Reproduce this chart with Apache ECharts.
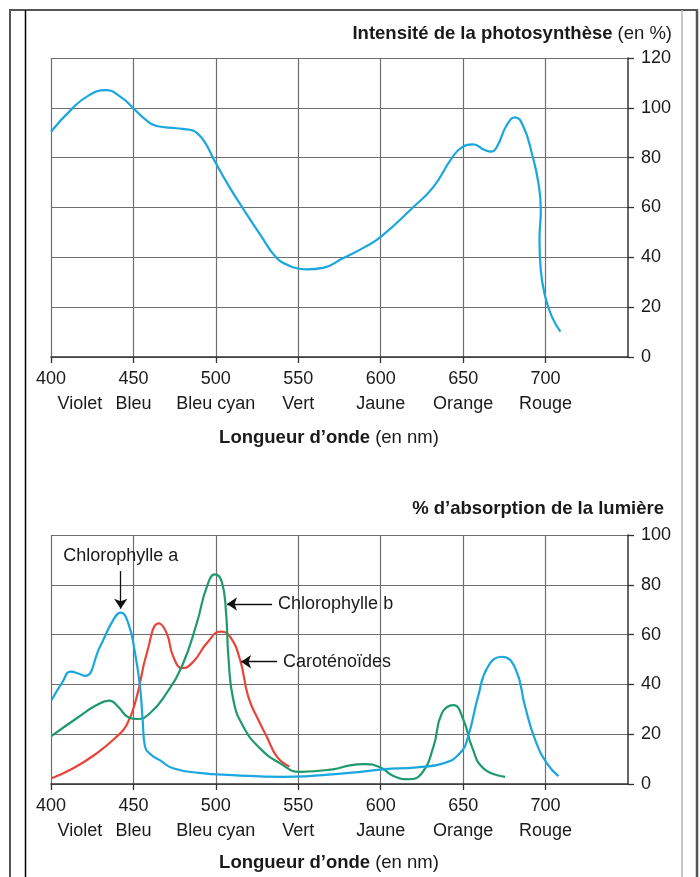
<!DOCTYPE html>
<html><head><meta charset="utf-8">
<script src="https://cdn.jsdelivr.net/npm/echarts@6/dist/echarts.min.js"></script>
<style>html,body{margin:0;padding:0;background:#fff}#c{width:700px;height:877px}</style>
</head><body><div id="c"></div><script>
// ---------- data ----------
const tickValues = [400, 450, 500, 550, 600, 650, 700];
const colourNames = ['Violet', 'Bleu', 'Bleu cyan', 'Vert', 'Jaune', 'Orange', 'Rouge'];
const colourPos = [417.5, 450, 500, 550, 600, 650, 700];
const photoYTicks = [0, 20, 40, 60, 80, 100, 120];
const absYTicks = [0, 20, 40, 60, 80, 100];

// Intensité de la photosynthèse
const photoNm  = [400, 413, 423, 433, 442, 450, 457, 464, 476, 485, 488, 493, 499.5, 508, 517, 527, 537, 544, 549, 555, 565, 577, 590, 600, 620, 632, 643, 649, 656, 663, 667, 670.5, 676.5, 681.6, 686.6, 691.7, 695.7, 697.1, 696.3, 697.1, 699.8, 703.8, 709];
const photoVal = [90.4, 99.8, 105, 107.1, 104.5, 99.8, 95.5, 92.7, 91.8, 91.1, 90.2, 86.5, 78.4, 68.5, 59, 49, 39.6, 36.8, 35.6, 35.2, 35.8, 39.6, 44, 48.2, 60.3, 68.3, 79.7, 84, 85.3, 83.1, 82.4, 84.4, 93.1, 96.2, 92.4, 81.7, 69.7, 59, 47, 34.9, 24.2, 16.2, 10.2];

// Chlorophylle a
const chlANm  = [400.4, 406.5, 412, 416.6, 420.6, 429.7, 437.8, 442.3, 446.9, 451, 454, 455.6, 457, 461, 466, 474, 490, 510, 541, 581, 601.6, 622, 638, 648, 653, 659, 665, 673.5, 681.6, 687.6, 693.7, 700.8, 707.8];
const chlAVal = [33.7, 40.4, 45.1, 44.4, 43.4, 55.1, 65.9, 68.8, 64.5, 52.5, 39.1, 25.7, 15, 11.6, 9.6, 6.3, 4.5, 3.6, 2.9, 4.5, 5.9, 6.7, 8.3, 12.3, 19, 35, 47.1, 51.1, 46.5, 31, 17.7, 8.3, 3.2];

// Chlorophylle b
const chlBNm  = [400.4, 415.6, 427.7, 435.4, 440.8, 446.9, 452.4, 460, 470, 479.3, 488.4, 494.5, 499.5, 503.6, 506.2, 507.6, 510.6, 516.7, 526.8, 539, 551, 571, 581.4, 589.5, 599.6, 607.7, 616.8, 624.9, 632, 637.1, 644.1, 650.2, 655.3, 662.3, 675.5];
const chlBVal = [19.3, 26.4, 31.7, 33.5, 31, 26.8, 26.1, 28.4, 36.4, 47.1, 64.5, 79.2, 84.2, 81.2, 68.6, 51.1, 33.7, 23, 14.3, 8.3, 4.9, 5.9, 7.5, 8, 6.7, 3.2, 1.9, 4.3, 15, 28.4, 31.7, 25.7, 15, 6.3, 2.9];

// Caroténoïdes
const carNm  = [400.4, 413.5, 427.7, 438.8, 445.9, 452, 458.1, 465.5, 470.2, 474.2, 479.9, 486.3, 494.5, 503, 508.6, 514.7, 519.7, 525.8, 530.9, 537, 544.6];
const carVal = [2.3, 6.3, 12.3, 18.4, 23.7, 35, 52.5, 64.5, 60.5, 51.1, 46.5, 49.1, 56.5, 61.2, 59.2, 49.8, 35, 25.7, 19, 11, 7];

// ---------- styling ----------
const FONT = '"Liberation Sans", Arial, Helvetica, sans-serif';
const TXT = '#1a1a1a';
const GRIDC = '#6e6e6e';
const zip = (a, b) => a.map((v, i) => [v, b[i]]);

function mainX(gi) {
  return {
    type: 'value', gridIndex: gi, min: 400, max: 750, interval: 50, position: 'bottom',
    axisLine: { show: true, onZero: false, lineStyle: { color: '#333', width: 1.5 } },
    axisTick: { show: true, length: 6, customValues: tickValues, lineStyle: { color: '#333', width: 1.3 } },
    axisLabel: { customValues: tickValues, fontSize: 18, color: TXT, fontFamily: FONT, margin: 13 },
    splitLine: { show: true, lineStyle: { color: GRIDC, width: 1.2 } }
  };
}
function nameX(gi) {
  return {
    type: 'value', gridIndex: gi, min: 400, max: 750, position: 'bottom',
    axisLine: { show: false }, axisTick: { show: false }, splitLine: { show: false },
    axisLabel: {
      customValues: colourPos, fontSize: 18, color: TXT, fontFamily: FONT, margin: 38,
      formatter: v => { const i = colourPos.indexOf(v); return i >= 0 ? colourNames[i] : ''; }
    }
  };
}
function yAx(gi, ticks) {
  return {
    type: 'value', gridIndex: gi, position: 'right', min: ticks[0], max: ticks[ticks.length - 1], interval: 20,
    axisLine: { show: true, lineStyle: { color: '#333', width: 1.5 } },
    axisTick: { show: true, length: 6, lineStyle: { color: '#333', width: 1.3 } },
    axisLabel: { fontSize: 18, color: TXT, fontFamily: FONT, margin: 13 },
    splitLine: { show: true, lineStyle: { color: GRIDC, width: 1.2 } }
  };
}
function arrow(label, from, to) {
  return {
    silent: true, animation: false, symbol: ['none', 'arrow'], symbolSize: 10,
    lineStyle: { color: '#111', width: 1.3, type: 'solid' },
    itemStyle: { color: '#111' },
    label: { show: true, position: 'start', formatter: label, fontSize: 18, color: TXT, fontFamily: FONT, distance: 6 },
    emphasis: { disabled: true },
    data: [[{ coord: from }, { coord: to }]]
  };
}
const lineBase = { type: 'line', showSymbol: false, smooth: 0.5, animation: false, emphasis: { disabled: true } };
const rich = {
  b: { fontSize: 18.5, fontWeight: 'bold', color: TXT, fontFamily: FONT },
  n: { fontSize: 18.5, fontWeight: 'normal', color: TXT, fontFamily: FONT }
};

const chart = echarts.init(document.getElementById('c'), null, { renderer: 'canvas' });
chart.setOption({
  backgroundColor: '#fff',
  animation: false,
  title: [
    { text: '{b|Intensité de la photosynthèse} {n|(en %)}', right: 23, top: 19, textStyle: { rich } },
    { text: '{b|Longueur d’onde} {n|(en nm)}', left: 324, top: 423, textAlign: 'center', textStyle: { rich } },
    { text: '{b|% d’absorption de la lumière}', right: 31, top: 494, textStyle: { rich } },
    { text: '{b|Longueur d’onde} {n|(en nm)}', left: 324, top: 848, textAlign: 'center', textStyle: { rich } }
  ],
  grid: [
    { left: 51, top: 58, width: 577, height: 299 },
    { left: 51, top: 535, width: 577, height: 249 }
  ],
  xAxis: [mainX(0), nameX(0), mainX(1), nameX(1)],
  yAxis: [yAx(0, photoYTicks), yAx(1, absYTicks)],
  series: [
    Object.assign({}, lineBase, { name: 'Intensité de la photosynthèse', xAxisIndex: 0, yAxisIndex: 0, data: zip(photoNm, photoVal), lineStyle: { color: '#1aa6de', width: 2.2 } }),
    Object.assign({}, lineBase, { name: 'Caroténoïdes', xAxisIndex: 2, yAxisIndex: 1, data: zip(carNm, carVal), lineStyle: { color: '#e8453a', width: 2.2 },
      markLine: arrow('Caroténoïdes', [537.1, 49.1], [515.3, 49.1]) }),
    Object.assign({}, lineBase, { name: 'Chlorophylle b', xAxisIndex: 2, yAxisIndex: 1, data: zip(chlBNm, chlBVal), lineStyle: { color: '#1f9a6c', width: 2.2 },
      markLine: arrow('Chlorophylle b', [534.1, 72.3], [506.8, 72.3]) }),
    Object.assign({}, lineBase, { name: 'Chlorophylle a', xAxisIndex: 2, yAxisIndex: 1, data: zip(chlANm, chlAVal), lineStyle: { color: '#1aa6de', width: 2.2 },
      markLine: arrow('Chlorophylle a', [442.3, 85.5], [442.3, 70.4]) })
  ],
  graphic: [
    { type: 'line', shape: { x1: 9, y1: 10, x2: 698, y2: 10 }, style: { stroke: '#555', lineWidth: 2 }, silent: true },
    { type: 'line', shape: { x1: 10, y1: 10, x2: 10, y2: 877 }, style: { stroke: '#555', lineWidth: 2 }, silent: true },
    { type: 'line', shape: { x1: 697, y1: 10, x2: 697, y2: 877 }, style: { stroke: '#555', lineWidth: 2.5 }, silent: true },
    { type: 'line', shape: { x1: 25.5, y1: 10, x2: 25.5, y2: 877 }, style: { stroke: '#000', lineWidth: 1.5 }, silent: true },
    { type: 'line', shape: { x1: 682, y1: 10, x2: 682, y2: 877 }, style: { stroke: '#b5b5b5', lineWidth: 1.5 }, silent: true }
  ]
});
</script></body></html>
